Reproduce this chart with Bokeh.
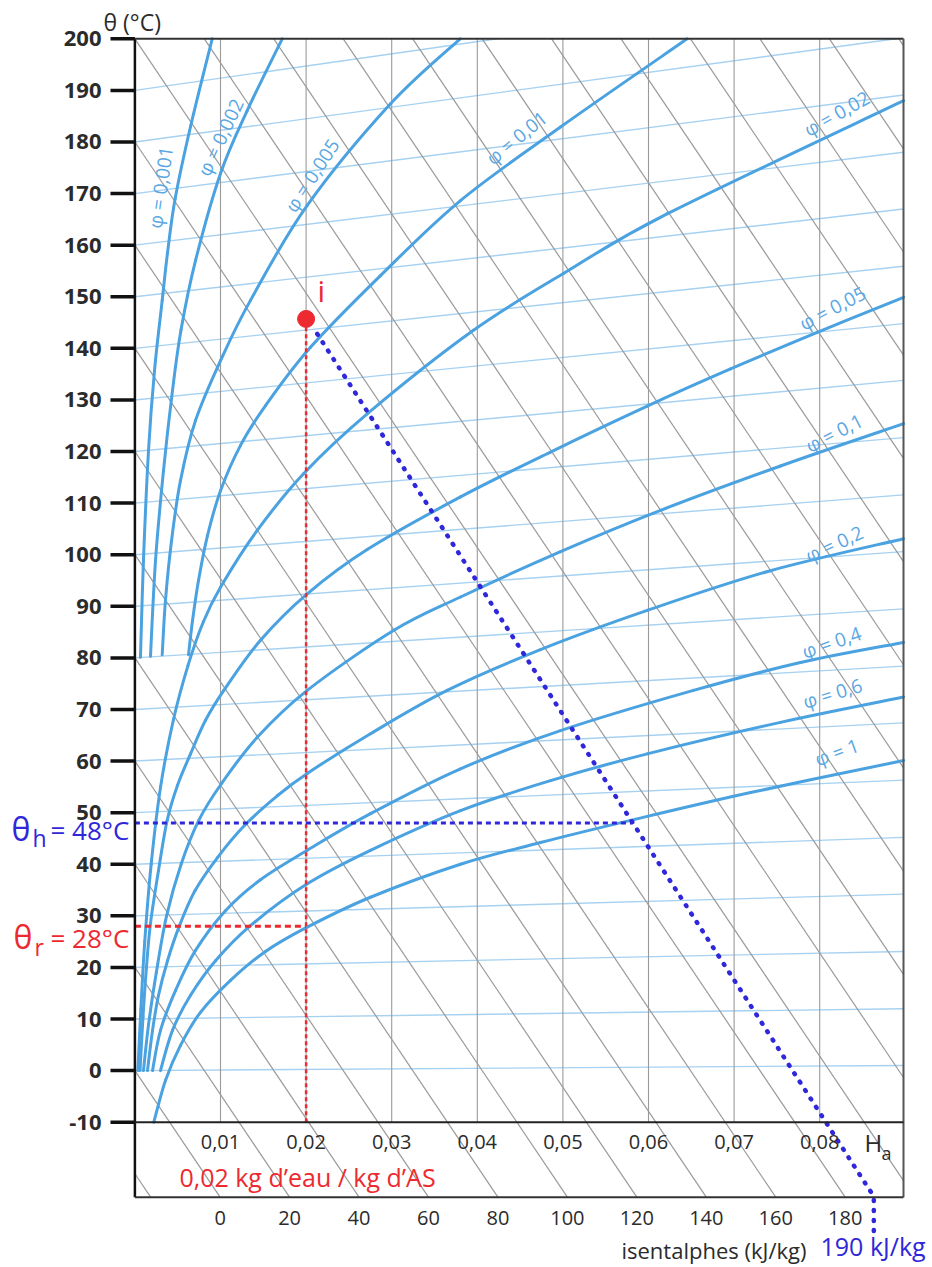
import numpy as np
from bokeh.plotting import figure
from bokeh.models import Range1d
from bokeh.core.properties import value
from bokeh.embed import file_html
from bokeh.resources import INLINE

# ---------------- values ----------------
T_TICKS = [-10, 0, 10, 20, 30, 40, 50, 60, 70, 80, 90, 100, 110, 120, 130, 140, 150, 160, 170, 180, 190, 200]
HA_TICKS = [0.01, 0.02, 0.03, 0.04, 0.05, 0.06, 0.07, 0.08]
HA_LABELS = ["0,01", "0,02", "0,03", "0,04", "0,05", "0,06", "0,07", "0,08"]
ENTH_LABELS = [0, 20, 40, 60, 80, 100, 120, 140, 160, 180]
ENTH_LINES = [-20, 0, 20, 40, 60, 80, 100, 120, 140, 160, 180, 200, 220, 240, 260, 280, 300, 320, 340, 360, 380, 400, 420]
ENTH_SLOPE = 2465.0  # deg C per (kg/kg) along an isenthalpe

# isotherms: temperature at Ha = 0 and at the right border
ISO_T_START = [0, 10, 20, 30, 40, 50, 60, 70, 80, 90, 100, 110, 120, 130, 140, 150, 160, 170, 180, 190]
ISO_T_END = [1.0, 12.0, 23.1, 34.2, 45.2, 56.3, 67.4, 78.4, 89.5, 100.6, 111.6, 122.7, 133.8, 144.8, 155.9, 167.0, 178.0, 189.1, 200.2, 211.2]

# relative humidity curves (Ha in kg/kg, theta in deg C)
RH_1_HA = [0.00221, 0.00357, 0.00533, 0.00766, 0.01117, 0.01526, 0.02013, 0.02752, 0.03804, 0.04738, 0.0579, 0.07192, 0.0898]
RH_1_T = [-10.0, -1.9, 4.9, 11.3, 17.5, 23.1, 27.8, 33.6, 40.0, 44.2, 48.5, 53.9, 60.1]
RH_06_HA = [0.00299, 0.00439, 0.0065, 0.00942, 0.0135, 0.02013, 0.02752, 0.03804, 0.04855, 0.05985, 0.07542, 0.0898]
RH_06_T = [0.0, 7.8, 14.6, 21.3, 28.1, 36.2, 42.7, 50.4, 56.2, 61.4, 67.5, 72.4]
RH_04_HA = [0.00206, 0.00299, 0.00474, 0.00708, 0.01058, 0.01467, 0.02013, 0.02752, 0.03804, 0.04972, 0.06525, 0.07775, 0.0898]
RH_04_T = [0.0, 7.8, 15.5, 23.3, 31.0, 37.0, 42.7, 49.8, 58.5, 65.9, 73.7, 79.1, 83.0]
RH_02_HA = [0.00147, 0.00206, 0.00276, 0.00381, 0.00521, 0.00703, 0.00965, 0.0128, 0.01666, 0.02013, 0.02752, 0.03648, 0.04738, 0.05985, 0.07425, 0.0898]
RH_02_T = [0.0, 7.8, 14.6, 21.3, 28.1, 34.9, 41.3, 47.5, 53.3, 57.6, 65.3, 73.7, 81.6, 89.2, 96.9, 103.1]
RH_01_HA = [0.001, 0.0016, 0.0025, 0.0037, 0.0054, 0.00746, 0.0101, 0.01429, 0.02013, 0.03021, 0.03804, 0.04972, 0.0614, 0.07542, 0.0898]
RH_01_T = [0.0, 9.0, 19.0, 30.0, 40.0, 48.5, 55.6, 64.6, 73.7, 85.3, 91.8, 100.6, 108.6, 117.2, 125.4]
RH_005_HA = [0.0006, 0.00095, 0.00135, 0.00182, 0.00276, 0.00377, 0.00498, 0.0065, 0.00825, 0.01039, 0.01467, 0.02013, 0.02714, 0.03804, 0.04855, 0.05985, 0.06958, 0.07971, 0.0898]
RH_005_T = [0.0, 10.5, 20.0, 28.5, 38.8, 48.5, 55.3, 61.4, 67.9, 73.7, 83.4, 92.4, 101.0, 111.2, 119.9, 128.8, 136.0, 143.1, 149.9]
RH_002_HA = [0.00035, 0.0007, 0.00115, 0.0019, 0.0030, 0.0045, 0.0062, 0.0080, 0.0100, 0.01429, 0.0197, 0.02714, 0.03955, 0.05005, 0.06222, 0.0898]
RH_002_T = [0.0, 12.0, 25.0, 40.0, 55.0, 68.0, 78.5, 87.0, 93.7, 104.7, 115.7, 127.3, 143.5, 154.5, 166.1, 188.0]
RH_001_HA = [0.00626, 0.00673, 0.00743, 0.00848, 0.0100, 0.01234, 0.01526, 0.02051, 0.02869, 0.038, 0.04972, 0.06452]
RH_001_T = [80.6, 87.2, 95.0, 103.7, 112.4, 121.2, 128.9, 140.2, 154.1, 168.6, 182.9, 200.0]
RH_0005_HA = [0.00319, 0.00357, 0.00428, 0.00533, 0.00708, 0.0100, 0.0135, 0.02013, 0.02986, 0.038]
RH_0005_T = [80.6, 91.1, 102.7, 114.4, 126.0, 137.6, 149.3, 167.7, 187.4, 200.0]
RH_0002_HA = [0.00182, 0.00241, 0.00334, 0.00439, 0.00539, 0.00708, 0.01, 0.01312, 0.01721]
RH_0002_T = [80.3, 98.9, 116.3, 131.8, 143.6, 157.0, 173.9, 186.1, 200.0]
RH_0001_HA = [0.00065, 0.001, 0.00159, 0.00229, 0.00319, 0.00381, 0.0047, 0.0065, 0.00903]
RH_0001_T = [80.1, 98.9, 120.2, 135.7, 149.3, 158.5, 169.0, 183.0, 200.0]

PHI_LABELS = ["φ = 0,001", "φ = 0,002", "φ = 0,005", "φ = 0,01", "φ = 0,02", "φ = 0,05",
              "φ = 0,1", "φ = 0,2", "φ = 0,4", "φ = 0,6", "φ = 1"]
PHI_LABEL_HA = [0.0030, 0.0100, 0.0207, 0.0446, 0.0820, 0.0815, 0.0817, 0.0817, 0.0814, 0.0815, 0.0820]
PHI_LABEL_T = [171.2, 180.9, 173.5, 180.8, 185.5, 147.8, 123.6, 102.1, 83.0, 73.1, 61.7]
PHI_LABEL_ANGLE = [82, 65, 57, 39, 29.4, 27.7, 27.3, 24.6, 18.9, 17, 20]

# worked example
POINT_I_HA = 0.02
POINT_I_T = 145.7
THETA_R = 28
THETA_H = 48
HA_AT_THETA_H = 0.0581
DOT_HA = [0.0213, 0.08632, 0.08632]
DOT_T = [142.8, -24.4, -31.4]

# ---------------- page geometry ----------------
W, H = 932, 1267
X0, KX = 134.4, 8560.0      # pixel of Ha = 0, pixels per kg/kg
Y0, KY = 38.3, 5.159        # pixel of theta = 200, pixels per deg C


def hx(px):
    return (px - X0) / KX


def ty(py):
    return 200.0 - (py - Y0) / KY


HA_MAX = hx(903.0)
T_BOX = ty(1196.7)
T_TOP = 200.0

p = figure(width=W, height=H, x_range=Range1d(hx(0), hx(W)), y_range=Range1d(ty(H), ty(0)),
           output_backend="svg", toolbar_location=None, x_axis_location=None, y_axis_location=None,
           min_border=0, outline_line_color=None, background_fill_color="white",
           border_fill_color="white")
for g in p.grid:
    g.visible = False

FONT = value("Open Sans")
INK = "#2b2b2b"

# isotherms (light blue, slightly rising)
ix0, iy0, ix1, iy1 = [], [], [], []
for t0, t1 in zip(ISO_T_START, ISO_T_END):
    x1, y1 = HA_MAX, t1
    if t1 > T_TOP:
        x1 = HA_MAX * (T_TOP - t0) / (t1 - t0)
        y1 = T_TOP
    ix0.append(0.0); iy0.append(t0); ix1.append(x1); iy1.append(y1)
p.segment(ix0, iy0, ix1, iy1, line_color="#a6d1f1", line_width=1.4)

# vertical grid lines
p.segment(HA_TICKS, [-10] * len(HA_TICKS), HA_TICKS, [T_TOP] * len(HA_TICKS),
          line_color="#9a9a9a", line_width=1.1)

# isenthalpes
ex0, ey0, ex1, ey1 = [], [], [], []
for h in ENTH_LINES:
    if h <= T_TOP:
        sx, sy = 0.0, float(h)
    else:
        sx, sy = (h - T_TOP) / ENTH_SLOPE, T_TOP
    bx = (h - T_BOX) / ENTH_SLOPE
    if bx <= HA_MAX:
        fx, fy = bx, T_BOX
    else:
        fx, fy = HA_MAX, h - ENTH_SLOPE * HA_MAX
    ex0.append(sx); ey0.append(sy); ex1.append(fx); ey1.append(fy)
p.segment(ex0, ey0, ex1, ey1, line_color="#9a9a9a", line_width=1.2)


def smooth_bezier(xs, ys):
    """Catmull-Rom path through the read points, as cubic Bezier pieces."""
    P = np.column_stack([xs, ys]).astype(float)
    n = len(P)
    out = {k: [] for k in ("x0", "y0", "x1", "y1", "cx0", "cy0", "cx1", "cy1")}
    for i in range(n - 1):
        p0 = P[max(i - 1, 0)]
        p1 = P[i]
        p2 = P[i + 1]
        p3 = P[min(i + 2, n - 1)]
        c1 = p1 + (p2 - p0) / 6.0
        c2 = p2 - (p3 - p1) / 6.0
        out["x0"].append(p1[0]); out["y0"].append(p1[1])
        out["x1"].append(p2[0]); out["y1"].append(p2[1])
        out["cx0"].append(c1[0]); out["cy0"].append(c1[1])
        out["cx1"].append(c2[0]); out["cy1"].append(c2[1])
    return out


# relative humidity curves
CURVE_COLOR = "#4ba2e0"
curves = [(RH_1_HA, RH_1_T), (RH_06_HA, RH_06_T), (RH_04_HA, RH_04_T), (RH_02_HA, RH_02_T),
          (RH_01_HA, RH_01_T), (RH_005_HA, RH_005_T), (RH_002_HA, RH_002_T), (RH_001_HA, RH_001_T),
          (RH_0005_HA, RH_0005_T), (RH_0002_HA, RH_0002_T), (RH_0001_HA, RH_0001_T)]
for cx, cy in curves:
    b = smooth_bezier(cx, cy)
    p.bezier(line_color=CURVE_COLOR, line_width=3, line_cap="round", **b)

# phi labels
p.text(x=PHI_LABEL_HA, y=PHI_LABEL_T, text=PHI_LABELS, angle=list(np.radians(PHI_LABEL_ANGLE)),
       text_font=FONT, text_font_size=value("19px"), text_color="#5aa7e3",
       text_align="center", text_baseline="middle")

# worked example lines
RED = "#ec2a30"
BLUE = "#2f27d9"
p.line([POINT_I_HA, POINT_I_HA], [-10, POINT_I_T], line_color=RED, line_width=2.5, line_dash="4 3")
p.line([0, POINT_I_HA], [THETA_R, THETA_R], line_color=RED, line_width=3, line_dash="6 4")
p.line([0, HA_AT_THETA_H], [THETA_H, THETA_H], line_color=BLUE, line_width=3, line_dash="5 4")
p.line(DOT_HA, DOT_T, line_color=BLUE, line_width=4.5, line_dash="1 9", line_cap="round")
p.scatter([POINT_I_HA], [POINT_I_T], size=17, fill_color=RED, line_color=RED)
p.text(x=[hx(317)], y=[ty(290)], text=["i"], text_font=FONT, text_font_size=value("30px"),
       text_color=RED, text_align="left", text_baseline="middle")

# frame
p.segment([0, 0, HA_MAX, 0, 0], [T_BOX, T_TOP, T_BOX, -10, T_BOX],
          [0, HA_MAX, HA_MAX, HA_MAX, HA_MAX], [T_TOP, T_TOP, T_TOP, -10, T_BOX],
          line_color=["#111", "#333", "#555", "#222", "#333"], line_width=[2.5, 2, 2, 2, 2])

# y ticks and labels
p.segment([hx(110)] * len(T_TICKS), T_TICKS, [0] * len(T_TICKS), T_TICKS,
          line_color="#111", line_width=3.5)
p.text(x=[hx(101)] * len(T_TICKS), y=T_TICKS, text=[str(t) for t in T_TICKS],
       text_font=FONT, text_font_size=value("22px"), text_font_style="bold", text_color=INK,
       text_align="right", text_baseline="middle")
p.text(x=[hx(103)], y=[ty(21)], text=["θ (°C)"], text_font=FONT, text_font_size=value("23px"),
       text_color=INK, text_align="left", text_baseline="middle")

# Ha labels inside bottom box
p.text(x=HA_TICKS, y=[ty(1141)] * len(HA_TICKS), text=HA_LABELS, text_font=FONT,
       text_font_size=value("20px"), text_color=INK, text_align="center", text_baseline="middle")
p.text(x=[hx(864)], y=[ty(1142)], text=["H"], text_font=FONT, text_font_size=value("24px"),
       text_color=INK, text_align="left", text_baseline="middle")
p.text(x=[hx(881)], y=[ty(1152)], text=["a"], text_font=FONT, text_font_size=value("18px"),
       text_color=INK, text_align="left", text_baseline="middle")
p.text(x=[hx(307)], y=[ty(1176)], text=["0,02 kg d’eau / kg d’AS"], text_font=FONT,
       text_font_size=value("25px"), text_color=RED, text_align="center", text_baseline="middle")

# enthalpy labels below
p.text(x=[(h - T_BOX) / ENTH_SLOPE for h in ENTH_LABELS], y=[ty(1217)] * len(ENTH_LABELS),
       text=[str(h) for h in ENTH_LABELS], text_font=FONT, text_font_size=value("20px"),
       text_color=INK, text_align="center", text_baseline="middle")
p.text(x=[hx(806)], y=[ty(1249)], text=["isentalphes (kJ/kg)"], text_font=FONT,
       text_font_size=value("22px"), text_color=INK, text_align="right", text_baseline="middle")
p.text(x=[hx(820)], y=[ty(1245)], text=["190 kJ/kg"], text_font=FONT,
       text_font_size=value("25px"), text_color=BLUE, text_align="left", text_baseline="middle")

# theta_h and theta_r labels
p.text(x=[hx(11)], y=[ty(828)], text=["θ"], text_font=FONT, text_font_size=value("32px"),
       text_color=BLUE, text_align="left", text_baseline="middle")
p.text(x=[hx(32)], y=[ty(837)], text=["h"], text_font=FONT, text_font_size=value("23px"),
       text_color=BLUE, text_align="left", text_baseline="middle")
p.text(x=[hx(50)], y=[ty(829)], text=["= 48°C"], text_font=FONT, text_font_size=value("26px"),
       text_color=BLUE, text_align="left", text_baseline="middle")
p.text(x=[hx(13)], y=[ty(936)], text=["θ"], text_font=FONT, text_font_size=value("32px"),
       text_color=RED, text_align="left", text_baseline="middle")
p.text(x=[hx(34)], y=[ty(946)], text=["r"], text_font=FONT, text_font_size=value("23px"),
       text_color=RED, text_align="left", text_baseline="middle")
p.text(x=[hx(50)], y=[ty(937)], text=["= 28°C"], text_font=FONT, text_font_size=value("26px"),
       text_color=RED, text_align="left", text_baseline="middle")

open("out.html", "w").write(file_html(p, INLINE))
